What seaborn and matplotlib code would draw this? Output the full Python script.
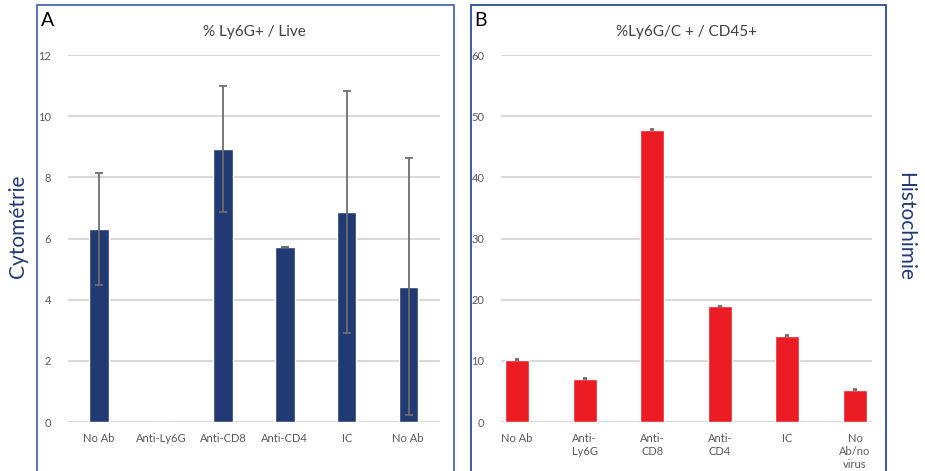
import matplotlib
matplotlib.use("Agg")
import matplotlib.pyplot as plt
from matplotlib.patches import Rectangle
import numpy as np
import pandas as pd
import seaborn as sns

# Panel A - cytométrie
cats_a = ["No Ab", "Anti-Ly6G", "Anti-CD8", "Anti-CD4", "IC", "No Ab "]
vals_a = [6.32, 0.0, 8.93, 5.72, 6.87, 4.43]
err_a = [1.83, np.nan, 2.07, 0.01, 3.97, 4.2]

# Panel B - histochimie
cats_b = ["No Ab", "Anti-\nLy6G", "Anti-\nCD8", "Anti-\nCD4", "IC", "No\nAb/no\nvirus"]
vals_b = [10.2, 7.1, 47.8, 19.0, 14.1, 5.3]
err_b = [0.05, 0.05, 0.05, 0.05, 0.05, 0.05]

sns.set_theme(style="white")
plt.rcParams["font.family"] = ["Lato", "DejaVu Sans"]

NAVY = "#213A73"
RED = "#EC1C24"
GRID = "#D9D9D9"
TICK = "#595959"

fig = plt.figure(figsize=(9.25, 4.71), dpi=100)

# cadres des panneaux
fig.patches.append(Rectangle((0.040, -0.05), 0.451, 1.04, transform=fig.transFigure,
                             fill=False, edgecolor="#4A68B0", lw=1.3))
fig.patches.append(Rectangle((0.509, -0.05), 0.449, 1.04, transform=fig.transFigure,
                             fill=False, edgecolor="#2D4B9A", lw=1.3))

ax_a = fig.add_axes([0.0735, 0.104, 0.402, 0.779])
ax_b = fig.add_axes([0.5416, 0.104, 0.401, 0.779])


def draw_panel(ax, cats, vals, errs, color, width, ymax, step, title, xlim, cap):
    df = pd.DataFrame({"cat": cats, "val": vals})
    sns.barplot(data=df, x="cat", y="val", color=color, width=width,
                saturation=1, ax=ax, zorder=3)
    ax.errorbar(range(len(cats)), vals, yerr=errs, fmt="none", ecolor="#6E6E6E",
                elinewidth=1.3, capsize=cap, capthick=1.3, zorder=4)
    ax.set_ylim(0, ymax)
    ax.set_xlim(*xlim)
    ax.set_yticks(range(0, ymax + 1, step))
    ax.yaxis.grid(True, color=GRID, lw=1.5, zorder=0)
    ax.set_axisbelow(True)
    for s in ax.spines.values():
        s.set_visible(False)
    ax.axhline(0, color=GRID, lw=1.5, zorder=2)
    ax.set_xlabel("")
    ax.set_ylabel("")
    ax.tick_params(axis="both", length=0, labelsize=8, colors=TICK, pad=8)
    ax.tick_params(axis="y", pad=12)
    ax.set_title(title, fontsize=11, color="#404040", pad=14)


draw_panel(ax_a, cats_a, vals_a, err_a, NAVY, 0.31, 12, 2,
           "% Ly6G+ / Live", (-0.5, 5.5), 3)
draw_panel(ax_b, cats_b, vals_b, err_b, RED, 0.355, 60, 10,
           "%Ly6G/C + / CD45+", (-0.24, 5.25), 1.5)
for lab in ax_b.get_xticklabels():
    lab.set_verticalalignment("top")
    lab.set_linespacing(1.2)

fig.text(0.044, 0.975, "A", fontsize=14, color="black", va="top", ha="left")
fig.text(0.513, 0.975, "B", fontsize=14, color="black", va="top", ha="left")

fig.text(0.020, 0.52, "Cytométrie", rotation=90, fontsize=15, color=NAVY,
         va="center", ha="center")
fig.text(0.978, 0.52, "Histochimie", rotation=-90, fontsize=15, color=NAVY,
         va="center", ha="center")

fig.savefig("out.png", dpi=100)
